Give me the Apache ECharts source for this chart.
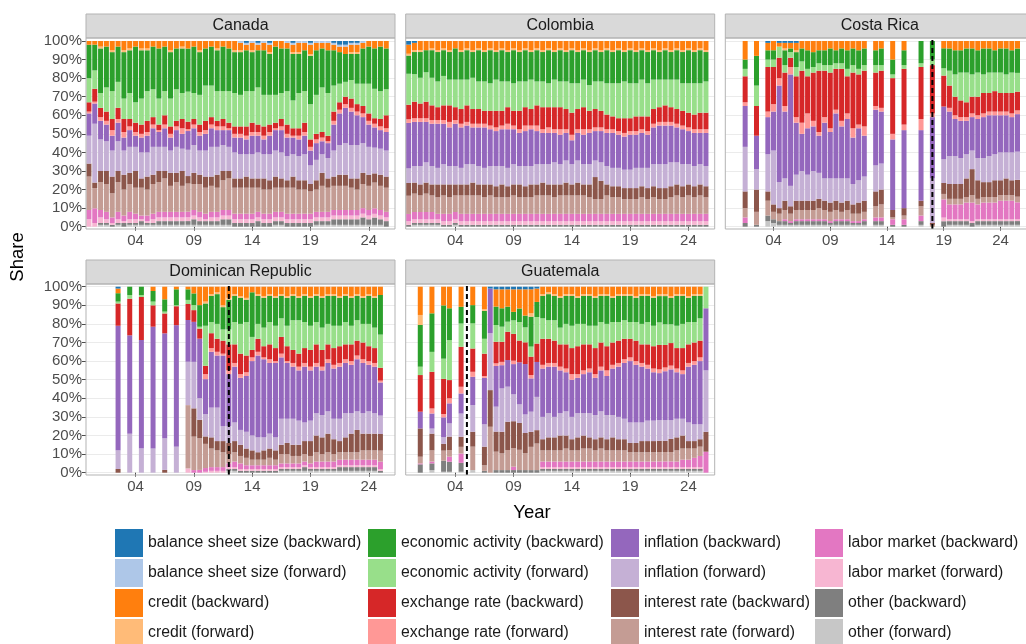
<!DOCTYPE html>
<html><head><meta charset="utf-8">
<script src="https://cdn.jsdelivr.net/npm/echarts@6/dist/echarts.min.js"></script>
<style>html,body{margin:0;padding:0;background:#fff}#c{width:1026px;height:644px}</style>
</head><body><div id="c"></div>
<script>
// ---------- categories (legend order = top of stack first) ----------
const categories = ['balance sheet size (backward)','balance sheet size (forward)','credit (backward)','credit (forward)',
 'economic activity (backward)','economic activity (forward)','exchange rate (backward)','exchange rate (forward)',
 'inflation (backward)','inflation (forward)','interest rate (backward)','interest rate (forward)',
 'labor market (backward)','labor market (forward)','other (backward)','other (forward)'];
const colors = ['#1f77b4','#aec7e8','#ff7f0e','#ffbb78','#2ca02c','#98df8a','#d62728','#ff9896',
 '#9467bd','#c5b0d5','#8c564b','#c49c94','#e377c2','#f7b6d2','#7f7f7f','#c7c7c7'];
// half-year slots on the shared x axis
const slots = [2000,2000.5,2001,2001.5,2002,2002.5,2003,2003.5,2004,2004.5,2005,2005.5,2006,2006.5,2007,2007.5,2008,2008.5,2009,2009.5,2010,2010.5,2011,2011.5,2012,2012.5,2013,2013.5,2014,2014.5,2015,2015.5,2016,2016.5,2017,2017.5,2018,2018.5,2019,2019.5,2020,2020.5,2021,2021.5,2022,2022.5,2023,2023.5,2024,2024.5,2025,2025.5,2026];
const tickYears = [2004,2009,2014,2019,2024];
const tickLabels = ['04','09','14','19','24'];

// columns of each row: bssB,bssF,credB,credF,econB,econF,exchB,exchF,inflB,inflF,intB,intF,labB,labF,othB,othF
const canadaYears = [2000,2000.5,2001,2001.5,2002,2002.5,2003,2003.5,2004,2004.5,2005,2005.5,2006,2006.5,2007,2007.5,2008,2008.5,2009,2009.5,2010,2010.5,2011,2011.5,2012,2012.5,2013,2013.5,2014,2014.5,2015,2015.5,2016,2016.5,2017,2017.5,2018,2018.5,2019,2019.5,2020,2020.5,2021,2021.5,2022,2022.5,2023,2023.5,2024,2024.5,2025,2025.5];
const canadaShares = [
[0,0,2,0,18,13,5,1,12,15,7,18,5,4,0,0],[0,0,2,0,14,10,7,1,11,32,3,11,8,2,0,0],[0,0,3,1,24,8,5,2,10,17,6,15,4,3,1,1],[0,0,3,0,22,13,5,2,9,16,7,15,4,2,1,1],
[0,0,5,1,21,15,6,3,8,14,9,13,3,1,1,0],[0,0,3,0,19,14,6,2,10,16,6,16,4,2,1,1],[0,0,5,1,25,11,7,3,7,13,8,14,3,1,2,0],[0,0,4,1,23,14,4,2,9,14,6,15,4,2,1,1],
[0,0,3,0,30,11,5,2,6,13,9,14,3,2,1,1],[0,0,4,1,26,14,5,2,8,14,5,15,2,1,2,1],[0,0,4,1,22,16,6,2,9,13,7,14,3,1,1,1],[0,0,3,0,23,15,4,2,10,15,5,16,3,2,1,1],
[0,0,4,0,27,14,3,1,8,13,6,16,3,2,2,1],[0,0,3,0,24,13,5,2,10,13,4,18,3,2,2,1],[0,0,5,1,25,15,4,2,7,12,7,14,3,2,2,1],[0,0,4,0,22,17,3,2,9,14,5,16,3,2,2,1],
[0,0,3,1,24,14,5,3,8,12,8,14,3,2,2,1],[0,0,4,0,23,16,4,1,10,14,4,15,3,2,2,1],[0,0,3,0,25,14,3,2,9,15,6,14,3,2,3,1],[0,0,5,1,23,16,4,2,8,13,5,15,3,2,2,1],
[0,0,4,0,20,19,5,2,9,14,6,14,3,1,2,1],[0,0,3,0,21,17,4,2,10,16,5,14,3,2,2,1],[0,0,4,1,22,16,3,2,9,15,7,13,3,2,2,1],[0,0,3,0,24,15,4,2,8,14,5,16,3,2,3,1],
[0,0,4,0,23,17,3,1,9,13,4,17,3,2,3,1],[0,0,5,1,22,18,4,2,8,14,5,14,3,2,2,0],[0,1,4,1,23,17,4,2,9,13,5,14,3,2,2,0],[1,1,3,0,22,19,5,2,8,12,6,14,3,2,2,0],
[0,1,4,1,21,17,5,2,10,13,5,14,3,2,2,0],[1,1,3,0,20,20,4,2,9,14,5,13,3,2,3,0],[0,1,4,0,24,17,5,2,8,13,6,13,3,2,2,0],[1,1,4,1,22,16,4,2,10,14,5,13,3,2,2,0],
[0,0,3,0,26,15,3,1,11,14,6,13,3,2,2,1],[0,0,4,0,24,14,4,2,12,14,5,13,3,2,2,1],[0,1,3,0,23,18,5,2,10,13,4,14,3,2,2,0],[1,1,4,1,25,15,4,1,9,12,6,14,3,2,2,0],
[0,1,5,1,21,19,4,2,9,13,5,13,3,2,2,0],[0,1,4,0,22,17,5,2,10,14,5,13,3,2,2,0],[1,1,5,1,26,19,4,2,8,10,4,12,3,2,2,0],[0,1,4,0,24,21,3,2,9,11,5,12,3,2,2,1],
[0,1,3,0,21,24,3,2,7,10,7,14,3,2,2,1],[0,1,4,0,23,23,3,1,8,11,5,13,3,2,2,1],[1,1,3,0,19,14,5,2,14,14,5,13,3,2,3,1],[2,1,3,0,17,10,4,2,17,16,6,13,3,2,3,1],
[2,1,4,0,15,8,4,2,19,17,6,13,3,2,3,1],[1,1,4,1,14,10,5,2,18,18,5,12,3,2,3,1],[1,1,4,1,16,11,4,2,16,18,6,11,3,2,3,1],[0,1,3,0,19,12,4,2,14,16,6,13,3,2,4,1],
[0,0,3,0,20,16,4,2,12,15,6,13,3,2,3,1],[0,0,4,0,22,16,3,2,11,14,5,14,3,2,4,1],[0,0,3,0,24,15,4,2,10,14,6,13,3,2,3,1],[0,0,4,0,22,14,7,2,10,14,6,13,3,2,3,0]];

const colombiaYears = [2000,2000.5,2001,2001.5,2002,2002.5,2003,2003.5,2004,2004.5,2005,2005.5,2006,2006.5,2007,2007.5,2008,2008.5,2009,2009.5,2010,2010.5,2011,2011.5,2012,2012.5,2013,2013.5,2014,2014.5,2015,2015.5,2016,2016.5,2017,2017.5,2018,2018.5,2019,2019.5,2020,2020.5,2021,2021.5,2022,2022.5,2023,2023.5,2024,2024.5,2025,2025.5];
const colombiaShares = [
[2,0,5,1,10,17,8,2,25,8,7,10,4,2,1,0],[1,0,4,1,12,15,9,2,24,9,6,10,4,2,1,1],[0,0,5,1,14,14,8,2,24,10,6,9,4,2,1,1],[0,0,5,0,12,16,9,2,22,11,6,10,4,2,1,1],
[0,0,4,1,15,15,8,2,23,10,6,9,4,2,1,1],[0,0,5,1,16,14,7,2,24,9,7,9,3,2,1,1],[0,0,4,1,14,16,8,2,22,11,6,10,4,2,1,0],[0,0,5,1,15,14,9,3,21,10,7,9,4,2,1,0],
[0,0,4,0,17,15,7,2,23,10,6,9,4,2,1,1],[0,0,5,1,15,16,8,2,22,9,6,10,4,2,1,0],[0,0,4,1,16,14,9,2,21,11,6,10,4,2,1,0],[0,0,5,1,14,17,8,2,20,10,7,10,4,2,1,0],
[0,0,4,1,17,15,8,2,21,10,6,10,4,2,1,0],[0,0,5,1,16,16,7,2,22,9,7,9,4,2,1,0],[0,0,4,1,18,15,8,2,20,10,6,10,4,2,1,0],[0,0,5,1,15,17,9,2,19,11,6,9,4,2,1,0],
[0,0,4,1,17,16,8,2,20,10,7,9,4,2,1,0],[0,0,5,1,16,14,9,3,21,10,6,9,4,2,1,0],[0,0,4,1,18,15,8,2,19,11,6,10,4,2,1,0],[0,0,5,1,16,16,10,2,18,10,7,9,4,2,1,0],
[0,0,4,1,17,14,10,3,19,11,6,9,4,2,1,0],[0,0,5,1,15,16,9,2,20,10,7,9,4,2,1,0],[0,0,4,1,17,13,11,3,18,11,6,10,4,2,1,0],[0,0,5,1,16,14,12,2,17,10,7,10,4,2,1,0],
[0,0,4,1,18,13,11,3,17,11,6,10,4,2,1,0],[0,0,5,1,15,15,12,2,16,12,7,9,4,2,1,0],[0,0,4,1,17,14,12,3,16,11,6,10,4,2,1,0],[0,0,5,1,16,15,11,2,15,12,7,10,4,2,1,0],
[0,0,4,1,18,16,12,3,13,11,6,10,4,2,1,0],[0,0,5,1,17,14,11,2,15,12,7,10,4,2,1,0],[0,0,4,1,16,15,12,3,16,11,6,10,4,2,1,0],[0,0,5,1,18,14,10,2,17,11,7,9,4,2,1,0],
[0,0,4,1,17,15,10,2,16,9,12,8,4,2,1,0],[0,0,5,1,16,16,9,2,17,10,10,8,4,2,1,0],[0,0,4,1,18,17,8,2,18,10,6,10,4,2,1,0],[0,0,5,1,17,18,7,2,19,10,6,9,4,2,1,0],
[0,0,4,1,18,19,7,2,18,10,6,9,4,2,1,0],[0,0,5,1,16,20,8,2,18,10,6,8,4,2,1,0],[0,0,4,1,18,19,7,2,19,10,6,8,4,2,1,0],[0,0,5,1,17,18,8,2,18,11,6,8,4,2,1,0],
[0,0,4,1,16,20,7,2,19,10,6,9,4,2,1,0],[0,0,5,1,17,18,8,2,18,11,6,8,4,2,1,0],[0,0,4,1,16,16,8,2,20,12,6,9,4,2,1,0],[0,0,5,1,15,15,8,2,21,13,6,8,4,2,1,0],
[0,0,4,1,16,14,9,2,21,13,6,8,4,2,1,0],[0,0,5,1,15,15,8,2,20,13,6,9,4,2,1,0],[0,0,4,1,16,16,8,2,19,12,6,10,4,2,1,0],[0,0,5,1,17,15,8,2,19,12,6,9,4,2,1,0],
[0,0,4,1,18,16,8,2,18,11,6,10,4,2,1,0],[0,0,5,1,17,17,8,2,18,11,6,9,4,2,1,0],[0,0,4,1,18,16,9,2,17,11,6,10,4,2,1,0],[0,0,5,1,16,17,9,2,18,11,6,9,4,2,1,0]];

const costaRicaYears = [2001.5,2002.5,2003.5,2004,2004.5,2005,2005.5,2006,2006.5,2007,2007.5,2008,2008.5,2009,2009.5,2010,2010.5,2011,2011.5,2012,2013,2013.5,2014.5,2015.5,2017,2018,2019,2019.5,2020,2020.5,2021,2021.5,2022,2022.5,2023,2023.5,2024,2024.5,2025,2025.5];
const costaRicaShares = [
[0,0,10,0,5,4,14,2,22,24,9,5,3,0,2,0],[0,0,8,0,16,11,16,0,18,11,12,7,0,0,1,0],
[1,0,4,0,5,4,24,3,20,20,5,8,0,0,3,3],[0,0,5,0,5,4,20,4,21,29,4,4,0,0,2,2],[1,0,2,0,0,6,11,4,52,14,3,4,0,0,2,1],[1,0,3,1,8,4,18,3,36,12,5,5,1,0,2,1],
[1,0,3,0,2,3,5,4,60,11,4,4,1,0,1,1],[1,0,4,1,8,5,22,3,28,14,5,5,1,0,2,1],[0,0,4,0,7,5,28,6,20,16,5,5,1,0,2,1],[0,0,5,0,10,4,20,8,25,14,5,5,1,0,2,1],
[0,0,6,0,8,3,26,3,24,16,5,5,1,0,2,1],[0,0,5,0,7,4,33,2,20,14,5,6,1,0,2,1],[0,0,5,0,8,3,25,3,30,12,5,5,1,0,2,1],[0,0,4,0,9,4,30,2,25,13,5,5,1,0,1,1],
[0,0,5,0,7,3,22,2,35,12,5,5,1,0,2,1],[0,0,4,0,8,3,28,3,28,13,5,4,1,0,2,1],[0,0,5,0,10,4,20,3,32,12,5,5,1,0,2,1],[0,0,4,0,9,4,30,5,25,11,5,4,1,0,1,1],
[0,0,5,0,10,3,27,2,28,12,6,4,1,0,1,1],[0,0,4,0,9,3,30,5,22,13,6,4,1,0,2,1],
[0,0,5,0,8,4,18,2,30,14,8,6,2,0,2,1],[0,0,4,0,9,3,20,2,28,14,8,7,2,0,2,1],[0,0,10,0,8,2,30,3,38,0,4,1,3,0,1,0],[0,0,5,0,8,2,30,3,42,0,4,2,3,0,1,0],
[0,0,0,0,12,2,28,6,38,0,3,5,3,0,2,1],[0,0,0,0,10,3,26,2,33,24,1,1,0,0,0,0],
[0,0,4,0,11,4,17,0,29,13,6,3,10,2,3,0],[0,0,4,0,12,8,12,2,24,15,8,3,8,1,2,1],[0,0,5,0,13,12,10,2,20,15,8,3,8,1,2,1],[0,0,5,0,12,15,9,2,20,14,8,3,8,1,2,1],
[0,0,4,0,13,16,8,2,18,13,10,3,9,1,2,1],[0,0,4,0,14,12,9,2,18,10,14,4,10,1,2,0],[0,0,5,0,12,13,10,2,21,12,10,3,8,1,2,1],[0,0,4,0,14,10,11,2,22,13,8,3,9,1,2,1],
[0,0,4,0,13,11,10,2,22,14,8,3,9,1,2,1],[0,0,5,0,12,10,11,2,21,14,9,3,9,1,2,1],[0,0,4,0,13,11,10,2,20,15,8,3,10,1,2,1],[0,0,4,0,14,10,10,2,20,14,9,3,10,1,2,1],
[0,0,5,0,12,11,11,2,19,15,8,3,10,1,2,1],[0,0,4,0,13,10,10,2,20,15,9,3,9,1,2,1]];

const domRepYears = [2002.5,2003.5,2004.5,2005.5,2006.5,2007.5,2008.5,2009,2009.5,2010,2010.5,2011,2011.5,2012,2012.5,2013,2013.5,2014,2014.5,2015,2015.5,2016,2016.5,2017,2017.5,2018,2018.5,2019,2019.5,2020,2020.5,2021,2021.5,2022,2022.5,2023,2023.5,2024,2024.5,2025];
const domRepShares = [
[1,0,2.5,0,4.5,1,12,0,67,10,2,0,0,0,0,0],[0,0,0,0,4.5,2,19.7,0,53,21,0,0,0,0,0,0],[0,0,0,0,4.5,1,23,0,58,13,0,0,0,0,0,0],
[0,0,2.3,0,5.7,2,11.5,0,65.5,13,0,0,0,0,0,0],[0,0,6.8,0,6.6,1,10.7,0,56.5,17,1.5,0,0,0,0,0],[0,0,1.4,0,8.6,0.5,10.2,0,65.4,14,0,0,0,0,0,0],
[0,0,1.4,0,5.7,2.2,8.6,0,22.4,23.3,0,34,0,2.3,0,0],[0,0,3.6,0,6.3,2.7,6.3,0,21.5,25,15.2,18,1.4,0,0,0],[0,0,9.9,0,11.6,1,5.4,0,32,11.6,9.9,17,1.5,0,0,0],
[0,0,8,1,12,21.5,4.5,2.7,18.8,12,4,13,2,0.5,0,0],[0,0,4,1,14,6,8,2,30,16,6,10,2,1,0,0],[0,0,3,1,16,8,7,2,28,18,5,9,2,1,0,0],[0,0,10,1,12,6,7,1,38,8,6,8,2,1,0,0],
[0,0,6,1,16,8,14,2,28,9,6,5,2,1,1,1],[0,0,4,1,14,12,10,2,30,10,6,5,3,1,1,1],[0,0,5,1,14,16,11,2,28,8,6,4,3,1,1,0],[0,0,6,1,12,18,9,2,30,9,5,4,2,1,1,0],
[0,0,3,0,24,7,4,2,40,8,5,3,2,1,1,0],[0,0,4,1,15,8,7,2,44,8,4,3,2,1,1,0],[0,0,5,1,16,10,6,1,42,7,5,3,2,1,1,0],[0,0,4,1,14,12,8,2,38,8,5,4,2,1,1,0],
[0,0,5,1,15,12,7,1,40,7,5,3,2,1,1,0],[0,0,4,1,12,10,9,2,33,14,5,5,2,1,1,1],[0,0,5,1,15,11,8,1,30,13,6,5,2,1,1,1],[0,0,4,1,13,16,7,2,28,14,6,4,2,1,1,1],
[0,0,5,1,12,18,7,2,27,13,6,4,2,1,1,1],[0,0,4,1,14,14,8,2,30,10,7,4,2,1,2,1],[0,0,5,1,15,13,9,2,27,11,8,4,2,1,1,1],[0,0,4,1,14,12,10,2,25,12,9,5,3,1,1,1],
[0,0,5,1,16,12,9,2,24,12,9,4,3,1,1,1],[0,0,4,1,15,11,8,2,26,12,10,5,3,1,1,1],[0,0,4,1,16,12,9,2,27,11,8,4,3,1,1,1],[0,0,5,1,15,11,9,2,28,12,6,4,3,1,2,1],
[0,0,4,1,14,12,8,2,27,13,8,4,3,1,2,1],[0,0,5,1,15,10,9,2,26,11,10,4,3,1,2,1],[0,0,4,1,13,11,8,2,28,10,12,4,3,1,2,1],[0,0,5,1,14,10,9,2,27,11,9,5,3,1,2,1],
[0,0,4,1,15,12,8,2,25,12,9,5,3,1,2,1],[0,0,5,1,16,11,8,2,25,11,9,5,3,1,2,1],[0,0,4.5,0,21.5,18,7,1,18,10,9,6,4,1,1,0]];

const guatemalaYears = [2001,2002,2003,2003.5,2004.5,2005.5,2006.5,2007,2007.5,2008,2008.5,2009,2009.5,2010,2010.5,2011,2011.5,2012,2012.5,2013,2013.5,2014,2014.5,2015,2015.5,2016,2016.5,2017,2017.5,2018,2018.5,2019,2019.5,2020,2020.5,2021,2021.5,2022,2022.5,2023,2023.5,2024,2024.5,2025,2025.5];
const guatemalaShares = [
[0,0,15.2,5.4,22.4,4.5,19.7,0,9,0,15.2,3.6,0.5,0,4.5,0],[0,0,14.3,0,20.7,10.7,19.7,2.7,8.1,2.7,9,6,1,0,3.6,1.4],[0,0,10,0,28.5,10.8,18.8,1.8,10.6,3.6,3.6,5.4,0,0,5.9,0.5],
[0,0,11.6,0,17.1,21.5,9.8,2.7,10.8,7.1,7.2,3.6,2.7,0,5.4,0.5],[0,0,10.8,0,9,12.5,21.5,3.6,10.8,12.5,5.4,3.6,5,0,4.8,0.5],[0,0,9.9,0,9.8,13.5,12.5,2.7,15.2,14.3,8,12.6,0,0,0,1.4],
[0,0,12,1,15,8,12,1,25,12,10,3,0,0,1,0],[1,0,0,0,0,0,0,0,24,30.6,19.7,24.7,0,0,0,0],
[1.4,0,9.3,0,9.9,9,11.6,1.4,21.9,13.4,10.8,9.9,0,0,1.4,0],[1.4,0,10.2,0,9.9,8.1,10.8,1.8,12.5,23.3,11.6,9,0,0,1.4,0],[1.4,0,9.3,0,8.1,5.4,15.2,0,14.3,18.8,15.2,10.8,0,0,1.4,0],
[1.4,0,12,0,4.5,7.2,14.3,1.8,16.1,14.3,14.3,9.9,1.8,0,1.4,0],[1.4,0,10.2,0,7.2,9.9,11.6,0,22.4,9.9,14.3,10.8,0,0,1.4,0],[1.4,0,14,0,6.3,8,11.6,0,26.9,9.9,10.8,9,0,0,1.4,0],
[1.4,0,12.9,1.8,16.1,5.4,9.9,1.8,17.9,10.8,8.1,12.5,0,0,1.4,0],[1,0,7.2,0,8.1,14.3,9.9,0,18.8,17.9,7.2,14.3,0,0,1.4,0],
[0,0,4,1,12,11,14,2,26,12,6,6,3,1,1,1],[0,0,3,1,14,10,13,2,25,13,7,6,3,1,1,1],[0,0,4,1,13,11,12,2,27,11,7,6,3,1,1,1],[0,0,5,1,16,9,12,2,23,12,8,6,3,1,1,1],
[0,0,4,1,15,11,13,2,21,13,7,7,3,1,1,1],[0,0,4,1,16,12,14,3,20,12,6,6,3,1,1,1],[0,0,5,1,14,12,15,2,19,13,7,6,3,1,1,1],[0,0,4,1,15,11,14,2,21,12,7,7,3,1,1,1],
[0,0,4,1,16,10,13,2,22,13,6,7,3,1,1,1],[0,0,5,1,15,12,14,2,20,13,6,6,3,1,1,1],[0,0,4,1,14,11,13,2,22,14,6,7,3,1,1,1],[0,0,4,1,15,12,13,3,21,13,6,6,3,1,1,1],
[0,0,5,1,13,11,12,2,25,12,7,6,3,1,1,1],[0,0,4,1,14,10,12,2,27,12,6,6,3,1,1,1],[0,0,4,1,13,10,11,2,30,11,6,6,3,1,1,1],[0,0,4,1,14,9,10,2,33,11,5,5,3,1,1,1],
[0,0,5,1,13,10,11,2,31,11,5,5,3,1,1,1],[0,0,4,1,15,11,10,2,30,10,6,5,3,1,1,1],[0,0,4,1,14,12,11,2,28,11,6,5,3,1,1,1],[0,0,5,1,15,11,12,2,26,11,6,5,3,1,1,1],
[0,0,4,1,14,12,13,2,25,11,6,5,3,1,1,1],[0,0,4,1,15,11,12,2,26,11,6,5,3,1,1,1],[0,0,5,1,14,10,12,2,27,10,7,5,3,1,1,1],[0,0,4,1,16,12,11,2,25,10,7,6,3,1,1,1],
[0,0,4,1,15,13,12,2,24,9,7,6,4,1,1,1],[0,0,5,1,13,12,10,2,30,10,4,6,4,1,1,1],[0,0,4,1,14,11,10,2,32,9,4,5,5,1,1,1],[0,0,4,1,12,12,9,2,34,8,4,5,6,1,1,1],
[0,0,0,0,0,11.6,0,0,33.4,33,10.7,0,11.3,0,0,0]];

const panelNames = ['Canada','Colombia','Costa Rica','Dominican Republic','Guatemala'];
const panelYears = [canadaYears, colombiaYears, costaRicaYears, domRepYears, guatemalaYears];
const panelShares = [canadaShares, colombiaShares, costaRicaShares, domRepShares, guatemalaShares];
const cutoffYears = [null, null, 2018, 2012, 2005];

// ---------- layout ----------
const FONT = 'Liberation Sans, Arial, Helvetica, sans-serif';
const colLeft = [86, 405.7, 725.3];
const panelW = 309;
const rows = [ {strip: 14, box: 38, boxB: 229, top: 41, h: 185.7},
               {strip: 260, box: 284, boxB: 475, top: 286.7, h: 186} ];
const panelPos = [[0,0],[1,0],[2,0],[0,1],[1,1]];

const grids = [], xAxes = [], yAxes = [], series = [], graphics = [];
panelNames.forEach((name, p) => {
  const [c, r] = panelPos[p];
  const L = colLeft[c], R = rows[r];
  grids.push({left: L, top: R.top, width: panelW, height: R.h});
  xAxes.push({
    type: 'category', gridIndex: p, data: slots.map(String), boundaryGap: true,
    offset: R.boxB - (R.top + R.h),
    axisLine: {show: false}, splitLine: {show: false},
    axisTick: {show: true, alignWithLabel: true, length: 4, lineStyle: {color: '#4d4d4d', width: 1},
      interval: (i, v) => tickYears.indexOf(+v) >= 0},
    axisLabel: {show: true, interval: (i, v) => tickYears.indexOf(+v) >= 0,
      formatter: v => tickLabels[tickYears.indexOf(+v)], color: '#4d4d4d', fontSize: 15, fontFamily: FONT, margin: 4}
  });
  yAxes.push({
    type: 'value', gridIndex: p, min: 0, max: 1, interval: 0.1,
    axisLine: {show: false},
    splitLine: {show: true, lineStyle: {color: '#ebebeb', width: 1}},
    axisTick: {show: c === 0, length: 4, lineStyle: {color: '#4d4d4d'}},
    axisLabel: {show: c === 0, formatter: v => Math.round(v * 100) + '%', color: '#4d4d4d', fontSize: 15, fontFamily: FONT, margin: 4}
  });
  const yrs = panelYears[p], sh = panelShares[p];
  // stack from bottom: last category first
  for (let k = categories.length - 1; k >= 0; k--) {
    const data = slots.map(() => '-');
    yrs.forEach((y, i) => {
      const row = sh[i];
      const tot = row.reduce((a, b) => a + b, 0);
      data[slots.indexOf(y)] = row[k] / tot;
    });
    series.push({type: 'bar', name: categories[k], stack: 'p' + p, xAxisIndex: p, yAxisIndex: p,
      barWidth: 5, data, itemStyle: {color: colors[k]}, silent: true});
  }
  if (cutoffYears[p] !== null) {
    const idx = slots.indexOf(cutoffYears[p]);
    const ext = 1 / R.h;
    series.push({type: 'line', xAxisIndex: p, yAxisIndex: p, clip: false, symbol: 'none', silent: true, z: 5,
      data: [[idx, -(R.boxB - R.top - R.h) * ext], [idx, 1 + (R.top - R.box) * ext]],
      lineStyle: {color: '#000', width: 2, type: [5, 3]}});
  }
  // strip + panel border
  graphics.push({type: 'rect', shape: {x: L, y: R.strip, width: panelW, height: R.box - R.strip},
    style: {fill: '#d9d9d9', stroke: '#b3b3b3', lineWidth: 1}, z: 10});
  graphics.push({type: 'text', x: L + panelW / 2, y: R.strip + (R.box - R.strip) / 2,
    style: {text: name, fill: '#1a1a1a', font: '16px ' + FONT, textAlign: 'center', textVerticalAlign: 'middle'}, z: 11});
  graphics.push({type: 'rect', shape: {x: L, y: R.box, width: panelW, height: R.boxB - R.box},
    style: {fill: 'none', stroke: '#b3b3b3', lineWidth: 1}, z: 10});
});
graphics.push({type: 'text', x: 18, y: 257, rotation: Math.PI / 2,
  style: {text: 'Share', fill: '#000', font: '18.5px ' + FONT, textAlign: 'center', textVerticalAlign: 'middle'}});
graphics.push({type: 'text', x: 532, y: 513,
  style: {text: 'Year', fill: '#000', font: '18.5px ' + FONT, textAlign: 'center', textVerticalAlign: 'middle'}});

const legendLeft = [115, 368, 611, 815];
const legends = legendLeft.map((l, c) => ({
  orient: 'vertical', left: l, top: 529, width: 240, height: 140,
  itemWidth: 28, itemHeight: 28, itemGap: 2, icon: 'rect',
  selectedMode: false, padding: 0,
  data: categories.slice(c * 4, c * 4 + 4),
  textStyle: {fontSize: 15.8, color: '#1a1a1a', fontFamily: FONT}
}));

const chart = echarts.init(document.getElementById('c'), null, {renderer: 'canvas'});
chart.setOption({
  animation: false, backgroundColor: '#fff',
  textStyle: {fontFamily: FONT},
  grid: grids, xAxis: xAxes, yAxis: yAxes, series, legend: legends,
  graphic: {elements: graphics}
});
</script></body></html>
